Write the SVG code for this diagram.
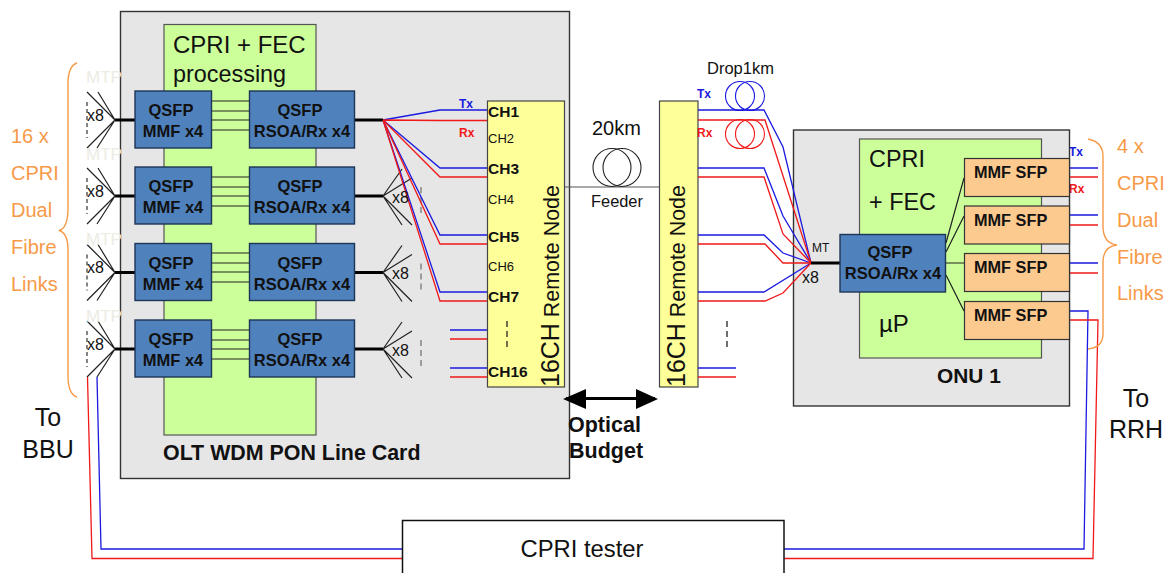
<svg xmlns="http://www.w3.org/2000/svg" width="1167" height="573" viewBox="0 0 1167 573">
<style>
text{font-family:"Liberation Sans",Arial,sans-serif;fill:#111}
.b{font-weight:bold}
.card{fill:#e6e6e6;stroke:#333;stroke-width:1.4}
.gr{fill:#ccff99;stroke:#555;stroke-width:1.2}
.q{fill:#4f81bd;stroke:#1d3557;stroke-width:1.4}
.s{fill:#fcc98f;stroke:#333;stroke-width:1.2}
.y{fill:#ffff99;stroke:#444;stroke-width:1.2}
.qt{font-size:16.5px;font-weight:bold;text-anchor:middle}
.sf{font-size:16.3px;font-weight:bold}
.o{font-size:20px;fill:#f79a48}
.mtp{font-size:17px;fill:#ecece4}
.x8{font-size:16px}
.ln{fill:none;stroke:#222;stroke-width:1.2}
.th{fill:none;stroke:#000;stroke-width:3}
.bl{fill:none;stroke:#1a1ae0;stroke-width:1.3}
.rd{fill:none;stroke:#f01818;stroke-width:1.3}
.obr{fill:none;stroke:#f79a48;stroke-width:1.4}
.ds{fill:none;stroke:#444;stroke-width:1.3;stroke-dasharray:6 4}
.tx{font-size:12px;font-weight:bold;fill:#1a1ae0}
.rx{font-size:12px;font-weight:bold;fill:#f01818}
.ch{font-size:15.5px;font-weight:bold}
.c2{font-size:13px}
.coil{fill:none;stroke-width:1.1}
</style>
<defs>
<g id="fanL"><path class="ln" d="M115 0L87-28M115 0L98-28M115 0L87 28M115 0L97 28"/><path class="ds" d="M87-18V18" style="stroke-dasharray:4 3"/></g>
<g id="fanR"><path class="ln" d="M383 0L402-27M383 0L412-18M383 0L412 29M383 0L402 29"/><path class="ds" d="M421-9V20" style="stroke:#777"/></g>
<g id="links"><path class="ln" d="M212 101H249M212 111H249M212 120H249M212 130H249"/></g>
</defs>

<g id="olt-card"><rect class="card" x="120.500" y="11.500" width="449" height="467"/></g>
<g id="olt-fpga"><rect class="gr" x="164" y="24.500" width="152" height="410.500"/>
<text x="173" y="53" font-size="24">CPRI + FEC</text><text x="173" y="82" font-size="23.400">processing</text></g>
<text class="b" x="163" y="460" font-size="21.400">OLT WDM PON Line Card</text>

<g id="connectors-olt">
<g id="row-links"><use href="#links"/><use href="#links" y="76"/><use href="#links" y="152"/><use href="#links" y="229"/></g>
<path class="th" d="M115 120H135M354 120H383M115 196H135M354 196H383M115 272.500H135M354 272.500H383M115 349H135M354 349H383"/>
<use href="#fanL" y="120"/><use href="#fanL" y="196"/><use href="#fanL" y="272.500"/><use href="#fanL" y="349"/>
<use href="#fanR" y="196"/><use href="#fanR" y="272.500"/><use href="#fanR" y="349"/>
<path class="bl" d="M383 120L440 110H487M383 120L440 168H487M383 120L440 235H487M383 120L440 292H487M450 330H487M450 368H487"/>
<path class="rd" d="M383 120L440 120.500H487M383 120L440 177H487M383 120L440 244H487M383 120L440 301H487M450 339H487M450 377H487"/>
<path class="ln" style="stroke:#555" d="M565 187H659"/>
<path d="M566 398.500H655" fill="none" stroke="#000" stroke-width="3"/>
<path d="M563 399L586 389V409ZM658 399L636 389V409Z" fill="#000"/>
</g>

<g id="qsfp-mmf-1"><rect class="q" x="135" y="91" width="76.500" height="57"/><text class="qt" x="171" y="116">QSFP</text><text class="qt" x="173" y="137">MMF x4</text></g>
<g id="qsfp-rsoa-1"><rect class="q" x="249.500" y="91" width="105" height="57"/><text class="qt" x="300" y="116">QSFP</text><text class="qt" x="302" y="137">RSOA/Rx x4</text></g>
<g id="qsfp-mmf-2"><rect class="q" x="135" y="167" width="76.500" height="57"/><text class="qt" x="171" y="192">QSFP</text><text class="qt" x="173" y="213">MMF x4</text></g>
<g id="qsfp-rsoa-2"><rect class="q" x="249.500" y="167" width="105" height="57"/><text class="qt" x="300" y="192">QSFP</text><text class="qt" x="302" y="213">RSOA/Rx x4</text></g>
<g id="qsfp-mmf-3"><rect class="q" x="135" y="243.500" width="76.500" height="57"/><text class="qt" x="171" y="268.500">QSFP</text><text class="qt" x="173" y="289.500">MMF x4</text></g>
<g id="qsfp-rsoa-3"><rect class="q" x="249.500" y="243.500" width="105" height="57"/><text class="qt" x="300" y="268.500">QSFP</text><text class="qt" x="302" y="289.500">RSOA/Rx x4</text></g>
<g id="qsfp-mmf-4"><rect class="q" x="135" y="320" width="76.500" height="57"/><text class="qt" x="171" y="345">QSFP</text><text class="qt" x="173" y="366">MMF x4</text></g>
<g id="qsfp-rsoa-4"><rect class="q" x="249.500" y="320" width="105" height="57"/><text class="qt" x="300" y="345">QSFP</text><text class="qt" x="302" y="366">RSOA/Rx x4</text></g>

<g id="fan-labels">
<text class="mtp" x="86" y="83">MTP</text><text class="mtp" x="86" y="160">MTP</text><text class="mtp" x="86" y="245">MTP</text><text class="mtp" x="86" y="322">MTP</text>
<text class="x8" x="87" y="121">x8</text><text class="x8" x="87" y="197">x8</text><text class="x8" x="87" y="273">x8</text><text class="x8" x="87" y="350">x8</text>
<text class="x8" x="392" y="203">x8</text><text class="x8" x="392" y="279">x8</text><text class="x8" x="392" y="356">x8</text>
</g>

<g id="remote-node-1"><rect class="y" x="487.500" y="101" width="77" height="286"/>
<text class="ch" x="488" y="117">CH1</text><text class="c2" x="488" y="143">CH2</text><text class="ch" x="488" y="174">CH3</text><text class="c2" x="488" y="204">CH4</text><text class="ch" x="488" y="242">CH5</text><text class="c2" x="488" y="271">CH6</text><text class="ch" x="488" y="302">CH7</text><text class="ch" x="488" y="377">CH16</text>
<path class="ds" d="M507 321V350" style="stroke:#222"/>
<text transform="translate(559 387) rotate(-90)" font-size="21.400"><tspan font-size="25">16CH</tspan> Remote Node</text></g>
<g id="remote-node-2"><rect class="y" x="659.500" y="101" width="38.500" height="286"/>
<text transform="translate(685 387) rotate(-90)" font-size="21.400"><tspan font-size="25">16CH</tspan> Remote Node</text></g>

<g id="feeder-coil"><circle class="coil" stroke="#222" cx="612" cy="167.500" r="19"/><circle class="coil" stroke="#222" cx="622" cy="167.500" r="19"/>
<text x="592" y="135" font-size="20">20km</text><text x="591" y="207" font-size="16.400">Feeder</text></g>
<g id="drop-coils"><circle class="coil" stroke="#1a1ae0" cx="740" cy="96" r="14.500"/><circle class="coil" stroke="#1a1ae0" cx="750" cy="96" r="14.500"/>
<circle class="coil" stroke="#f01818" cx="740" cy="134" r="14.500"/><circle class="coil" stroke="#f01818" cx="750" cy="134" r="14.500"/>
<text x="707" y="74" font-size="16.500">Drop1km</text></g>

<g id="tx-rx-labels">
<text class="tx" x="459" y="108">Tx</text><text class="rx" x="459" y="137">Rx</text>
<text class="tx" x="697" y="98">Tx</text><text class="rx" x="697" y="137">Rx</text>
<text class="tx" x="1069" y="156">Tx</text><text class="rx" x="1069" y="193">Rx</text>
</g>

<g id="optical-budget"><text class="b" x="568" y="432" font-size="21.500">Optical</text><text class="b" x="569" y="458" font-size="21.500">Budget</text></g>

<g id="onu-card"><rect class="card" x="793.500" y="130" width="276" height="276"/></g>
<g id="onu-fpga"><rect class="gr" x="859.500" y="139" width="182" height="219"/>
<text x="869" y="167" font-size="23.400">CPRI</text><text x="869" y="210" font-size="23.400">+ FEC</text><text x="879" y="332" font-size="24">µP</text></g>
<text class="b" x="937" y="383" font-size="20.900">ONU 1</text>

<g id="connectors-onu">
<path class="ds" d="M727 321V350" style="stroke:#222"/>
<path class="bl" d="M698 110H764L783 147L811 263M698 168H764L783 216L811 263M698 235H764L783 253L811 263M698 292H764L811 263M698 368H736"/>
<path class="rd" d="M698 120H765L811 263M698 177H764L783 234L811 263M698 244H765L783 263H811M698 301H765L783 293L811 263M698 377H736"/>
<path class="th" d="M811 263H840"/>
<path class="ln" d="M946 243L964 178M946 252L964 216M946 263H964M946 275L964 311"/>
<path class="bl" d="M1069 168H1098M1069 215H1098M1069 263H1098"/>
<path class="rd" d="M1069 177H1098M1069 225H1098M1069 273H1098"/>
<path class="bl" d="M1069 311H1088L1084 549H784M402 549H101L97 377"/>
<path class="rd" d="M1069 320H1098L1093 558.500H784M402 558.500H92L87.500 377"/>
</g>

<g id="onu-qsfp"><rect class="q" x="840" y="234.500" width="105.500" height="57.500"/><text class="qt" x="890" y="258">QSFP</text><text class="qt" x="893" y="279">RSOA/Rx x4</text></g>
<g id="sfp-1"><rect class="s" x="964.500" y="158.500" width="105" height="38"/><text class="sf" x="974" y="178">MMF SFP</text></g>
<g id="sfp-2"><rect class="s" x="964.500" y="206" width="105" height="38"/><text class="sf" x="974" y="226">MMF SFP</text></g>
<g id="sfp-3"><rect class="s" x="964.500" y="253.500" width="105" height="38"/><text class="sf" x="974" y="273">MMF SFP</text></g>
<g id="sfp-4"><rect class="s" x="964.500" y="301.500" width="105" height="38"/><text class="sf" x="974" y="321">MMF SFP</text></g>
<g id="mt-labels"><text x="812" y="252" font-size="12">MT</text><text class="x8" x="802" y="283">x8</text></g>

<g id="brace-left"><path class="obr" d="M77 63C71 65 68 72 68 84V208C68 222 65 229 59 230.500C65 232 68 238 68 250V376C68 388 71 395 77 397"/>
<text class="o" x="11" y="143">16 x</text><text class="o" x="11" y="180">CPRI</text><text class="o" x="11" y="217">Dual</text><text class="o" x="11" y="254">Fibre</text><text class="o" x="11" y="291">Links</text></g>
<g id="brace-right"><path class="obr" d="M1088 139C1098 141 1103 146 1103 156V226C1103 238 1108 244 1117 245C1108 246 1103 252 1103 262V334C1103 343 1098 348 1088 349"/>
<text class="o" x="1117" y="153">4 x</text><text class="o" x="1117" y="190">CPRI</text><text class="o" x="1117" y="227">Dual</text><text class="o" x="1117" y="264">Fibre</text><text class="o" x="1117" y="300">Links</text></g>
<text x="48" y="426" font-size="25" text-anchor="middle">To</text><text x="48" y="458" font-size="25" text-anchor="middle">BBU</text>
<text x="1136" y="407" font-size="25" text-anchor="middle">To</text><text x="1136" y="438" font-size="25" text-anchor="middle">RRH</text>

<g id="cpri-tester"><rect x="402.500" y="520.500" width="381.500" height="60" fill="#fff" stroke="#111" stroke-width="1.500"/><text x="582" y="557" font-size="23.800" text-anchor="middle">CPRI tester</text></g>
</svg>
